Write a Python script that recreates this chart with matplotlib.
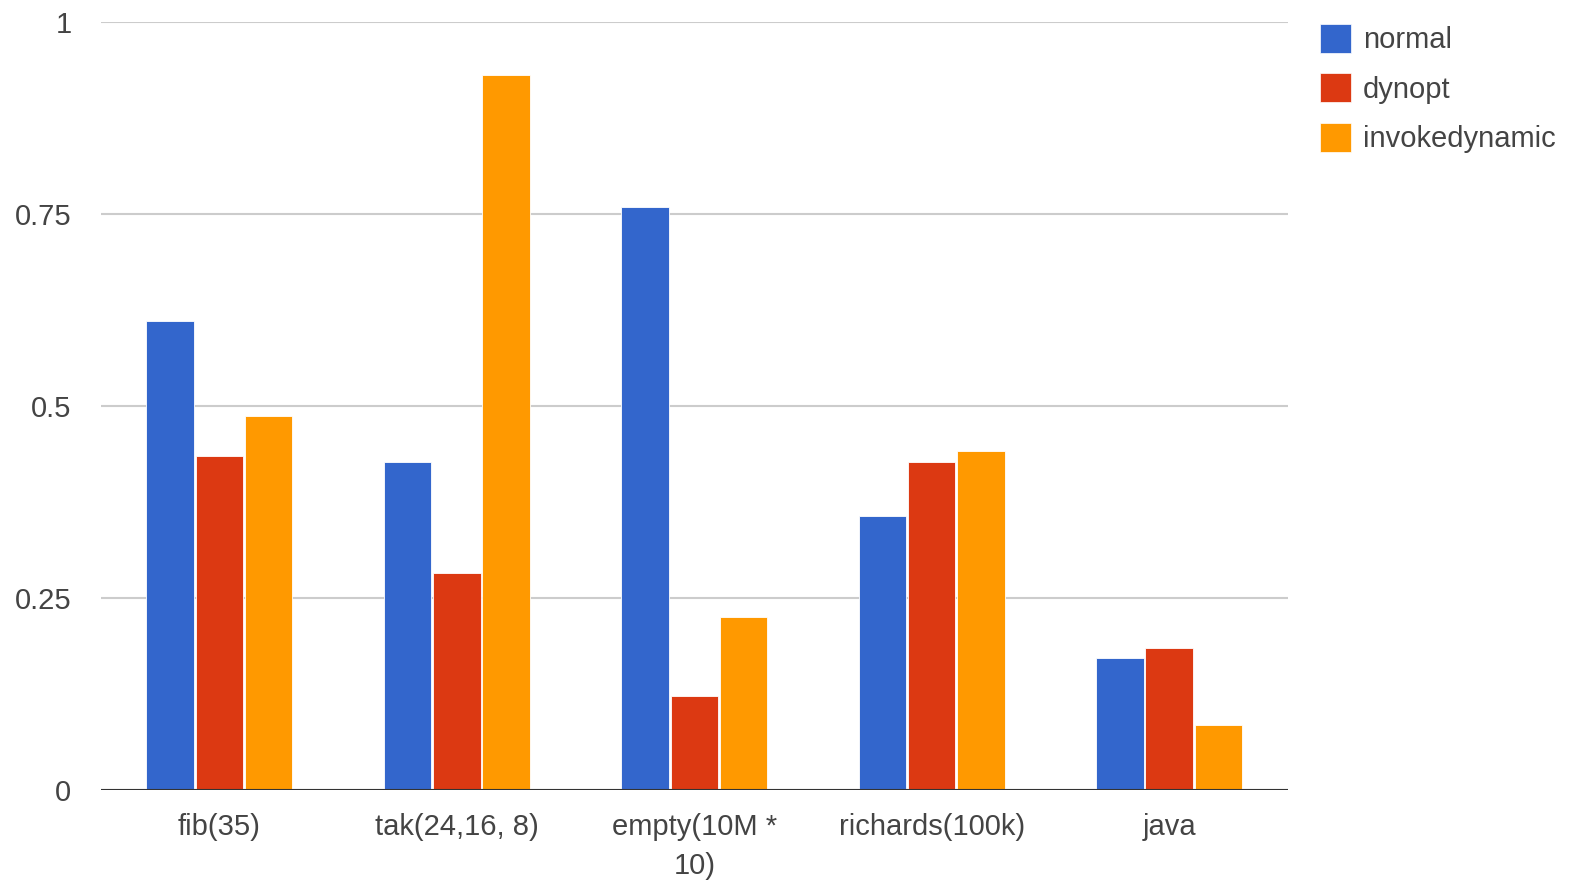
import numpy as np
import matplotlib.pyplot as plt
from matplotlib.patches import Patch

benchmarks = ["fib(35)", "tak(24,16, 8)", "empty(10M *\n10)", "richards(100k)", "java"]
series = ["normal", "dynopt", "invokedynamic"]
normal = [0.611, 0.427, 0.759, 0.357, 0.173]
dynopt = [0.435, 0.283, 0.123, 0.427, 0.186]
invokedynamic = [0.488, 0.931, 0.226, 0.442, 0.085]
yticks = [0, 0.25, 0.5, 0.75, 1]

colors = ["#3366cc", "#dc3912", "#ff9900"]
text_color = "#444444"

plt.rcParams['font.family'] = ['Liberation Sans', 'DejaVu Sans']

fig = plt.figure(figsize=(15.77, 8.86), dpi=100)
ax = fig.add_axes([0.0638, 0.1078, 0.7529, 0.8672])

x = np.arange(len(benchmarks))
width = 0.2
step = 0.207
for i, (vals, c) in enumerate(zip([normal, dynopt, invokedynamic], colors)):
    ax.bar(x + (i - 1) * step, vals, width, color=c, edgecolor="white",
           linewidth=0.6, zorder=3)

ax.set_xlim(-0.5, len(benchmarks) - 0.5)
ax.set_ylim(0, 1)
ax.set_yticks(yticks)
ax.set_yticklabels(["0", "0.25", "0.5", "0.75", "1"])
ax.set_xticks(x)
ax.set_xticklabels(benchmarks, linespacing=1.5)
ax.tick_params(axis="both", length=0, labelsize=21, colors=text_color)
ax.tick_params(axis="x", pad=16)
ax.tick_params(axis="y", pad=21)

ax.grid(axis="y", color="#cccccc", linewidth=1.5, zorder=0)
ax.axhline(0, color="#333333", linewidth=1.5, zorder=4)
for s in ax.spines.values():
    s.set_visible(False)

handles = [Patch(facecolor=c, edgecolor="white", linewidth=0.5) for c in colors]
fig.legend(handles, series, loc="upper left",
           bbox_to_anchor=(1320 / 1577, 1 - 24 / 886),
           frameon=False, fontsize=21, borderpad=0, borderaxespad=0,
           handlelength=1.05, handleheight=1.15, handletextpad=0.42,
           labelspacing=0.65, labelcolor=text_color)

fig.savefig("out.png", dpi=100, facecolor="white")
